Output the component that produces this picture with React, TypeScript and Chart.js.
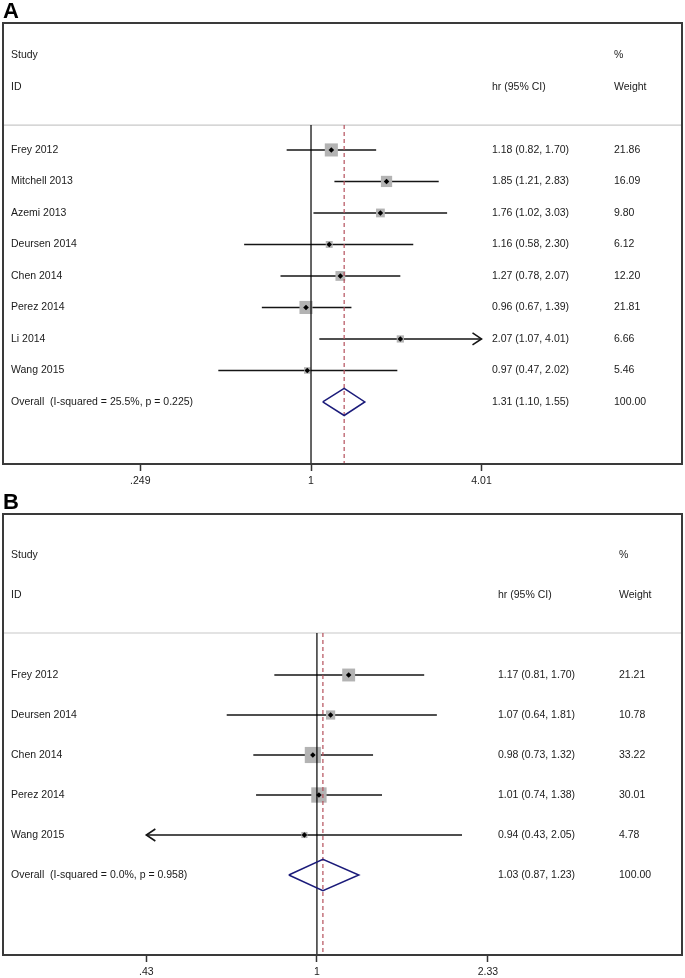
import React, { useEffect, useRef } from 'react';
import { Chart, registerables } from 'chart.js';

Chart.register(...registerables);

// ---------- Panel A data ----------
const studiesA = ['Frey 2012', 'Mitchell 2013', 'Azemi 2013', 'Deursen 2014', 'Chen 2014', 'Perez 2014', 'Li 2014', 'Wang 2015'];
const hrA = [1.18, 1.85, 1.76, 1.16, 1.27, 0.96, 2.07, 0.97];
const lowerA = [0.82, 1.21, 1.02, 0.58, 0.78, 0.67, 1.07, 0.47];
const upperA = [1.70, 2.83, 3.03, 2.30, 2.07, 1.39, 4.01, 2.02];
const weightA = [21.86, 16.09, 9.80, 6.12, 12.20, 21.81, 6.66, 5.46];
const overallA = [1.31, 1.10, 1.55]; // hr, lower, upper
const overallLabelA = 'Overall  (I-squared = 25.5%, p = 0.225)';
const tickValuesA = [0.249, 1, 4.01];
const tickLabelsA = ['.249', '1', '4.01'];

// ---------- Panel B data ----------
const studiesB = ['Frey 2012', 'Deursen 2014', 'Chen 2014', 'Perez 2014', 'Wang 2015'];
const hrB = [1.17, 1.07, 0.98, 1.01, 0.94];
const lowerB = [0.81, 0.64, 0.73, 0.74, 0.43];
const upperB = [1.70, 1.81, 1.32, 1.38, 2.05];
const weightB = [21.21, 10.78, 33.22, 30.01, 4.78];
const overallB = [1.03, 0.87, 1.23];
const overallLabelB = 'Overall  (I-squared = 0.0%, p = 0.958)';
const tickValuesB = [0.43, 1, 2.33];
const tickLabelsB = ['.43', '1', '2.33'];

// ---------- Headers ----------
const headerStudy = ['Study', 'ID'];
const headerCI = 'hr (95% CI)';
const headerWeight = ['%', 'Weight'];

type PanelData = {
  label: string;
  studies: string[];
  hr: number[];
  lower: number[];
  upper: number[];
  weight: number[];
  overall: number[];
  overallLabel: string;
  tickValues: number[];
  tickLabels: string[];
};

type Layout = {
  top: number;
  height: number;
  padTop: number;
  axisH: number;
  xMin: number;
  xMax: number;
  yMin: number;
  yMax: number;
  sepRow: number;
  diamondHalf: number;
  studyX: number;
  ciX: number;
  wtX: number;
};

const panelA: PanelData = {
  label: 'A', studies: studiesA, hr: hrA, lower: lowerA, upper: upperA, weight: weightA,
  overall: overallA, overallLabel: overallLabelA, tickValues: tickValuesA, tickLabels: tickLabelsA,
};
const panelB: PanelData = {
  label: 'B', studies: studiesB, hr: hrB, lower: lowerB, upper: upperB, weight: weightB,
  overall: overallB, overallLabel: overallLabelB, tickValues: tickValuesB, tickLabels: tickLabelsB,
};

const layoutA: Layout = {
  top: 0, height: 490, padTop: 23, axisH: 26,
  xMin: -2.509, xMax: 3.022, yMin: -4.03, yMax: 9.97, sepRow: -0.79,
  diamondHalf: 0.43, studyX: 8, ciX: 489, wtX: 611,
};
const layoutB: Layout = {
  top: 490, height: 488, padTop: 24, axisH: 23,
  xMin: -1.553, xMax: 1.806, yMin: -4.025, yMax: 7, sepRow: -1.05,
  diamondHalf: 0.39, studyX: 8, ciX: 495, wtX: 616,
};

const FONT = '"Liberation Sans", Arial, Helvetica, sans-serif';
const TEXT_SIZE = 10.5;
const SQUARE_K = 2.8;

function fmt(v: number) {
  return v.toFixed(2);
}

function ForestPanel({ data, layout }: { data: PanelData; layout: Layout }) {
  const ref = useRef<HTMLCanvasElement>(null);

  useEffect(() => {
    const canvas = ref.current;
    if (!canvas) return;
    const ln = Math.log;
    const n = data.studies.length;
    const overallRow = n;
    const tMin = data.tickValues[0];
    const tMax = data.tickValues[data.tickValues.length - 1];
    const clipLo = data.lower.map((v) => Math.max(v, tMin));
    const clipHi = data.upper.map((v) => Math.min(v, tMax));
    const [oh, ol, ou] = data.overall;

    const datasets: any[] = [];
    datasets.push({
      label: 'separator',
      data: [{ x: layout.xMin, y: layout.sepRow }, { x: layout.xMax, y: layout.sepRow }],
      showLine: true, borderColor: '#c8c8c8', borderWidth: 1.2, pointRadius: 0, order: 20,
    });
    data.studies.forEach((s, i) => {
      datasets.push({
        label: s,
        data: [{ x: ln(clipLo[i]), y: i }, { x: ln(clipHi[i]), y: i }],
        showLine: true, borderColor: '#151515', borderWidth: 1.6, pointRadius: 0, order: 15,
      });
    });
    datasets.push({
      label: 'weights',
      data: data.hr.map((v, i) => ({ x: ln(v), y: i })),
      pointStyle: 'rect',
      pointRadius: data.weight.map((w) => (SQUARE_K * Math.sqrt(w)) / Math.SQRT2),
      pointBackgroundColor: '#b3b3b3', pointBorderWidth: 0, showLine: false, order: 12,
    });
    datasets.push({
      label: 'null',
      data: [{ x: 0, y: layout.sepRow }, { x: 0, y: layout.yMax }],
      showLine: true, borderColor: '#000000', borderWidth: 1.2, pointRadius: 0, order: 10,
    });
    datasets.push({
      label: 'pooled',
      data: [{ x: ln(oh), y: layout.sepRow }, { x: ln(oh), y: layout.yMax }],
      showLine: true, borderColor: '#b5505c', borderWidth: 1.2, borderDash: [4, 3], pointRadius: 0, order: 9,
    });
    datasets.push({
      label: 'estimates',
      data: data.hr.map((v, i) => ({ x: ln(v), y: i })),
      pointStyle: 'rectRot', pointRadius: 2.8,
      pointBackgroundColor: '#000000', pointBorderWidth: 0, showLine: false, order: 6,
    });
    datasets.push({
      label: 'overall',
      data: [
        { x: ln(ol), y: overallRow },
        { x: ln(oh), y: overallRow - layout.diamondHalf },
        { x: ln(ou), y: overallRow },
        { x: ln(oh), y: overallRow + layout.diamondHalf },
        { x: ln(ol), y: overallRow },
      ],
      showLine: true, borderColor: '#1b1b7a', borderWidth: 1.5, borderJoinStyle: 'miter',
      pointRadius: 0, fill: false, order: 4,
    });

    const overlay = {
      id: 'forestOverlay' + data.label,
      afterDatasetsDraw(chart: any) {
        const { ctx, chartArea, scales } = chart;
        const xs = scales.x;
        const ys = scales.y;
        ctx.save();
        // arrowheads for truncated CIs
        ctx.strokeStyle = '#151515';
        ctx.lineWidth = 1.6;
        data.studies.forEach((_, i) => {
          const py = ys.getPixelForValue(i);
          if (data.upper[i] >= tMax) {
            const px = xs.getPixelForValue(ln(tMax));
            ctx.beginPath();
            ctx.moveTo(px - 9, py - 6);
            ctx.lineTo(px, py);
            ctx.lineTo(px - 9, py + 6);
            ctx.stroke();
          }
          if (data.lower[i] <= tMin) {
            const px = xs.getPixelForValue(ln(tMin));
            ctx.beginPath();
            ctx.moveTo(px + 9, py - 6);
            ctx.lineTo(px, py);
            ctx.lineTo(px + 9, py + 6);
            ctx.stroke();
          }
        });
        // frame
        ctx.strokeStyle = '#3a3a3a';
        ctx.lineWidth = 2;
        ctx.strokeRect(chartArea.left, chartArea.top, chartArea.right - chartArea.left, chartArea.bottom - chartArea.top);
        // panel letter
        ctx.fillStyle = '#000';
        ctx.font = 'bold 22px ' + FONT;
        ctx.textAlign = 'left';
        ctx.textBaseline = 'alphabetic';
        ctx.fillText(data.label, 3, chartArea.top - 5);
        // table text
        ctx.font = TEXT_SIZE + 'px ' + FONT;
        ctx.fillStyle = '#1a1a1a';
        ctx.textBaseline = 'middle';
        const L = chartArea.left;
        ctx.fillText(headerStudy[0], L + layout.studyX, ys.getPixelForValue(-3));
        ctx.fillText(headerStudy[1], L + layout.studyX, ys.getPixelForValue(-2));
        ctx.fillText(headerCI, L + layout.ciX, ys.getPixelForValue(-2));
        ctx.fillText(headerWeight[0], L + layout.wtX, ys.getPixelForValue(-3));
        ctx.fillText(headerWeight[1], L + layout.wtX, ys.getPixelForValue(-2));
        data.studies.forEach((s, i) => {
          const py = ys.getPixelForValue(i);
          ctx.fillText(s, L + layout.studyX, py);
          ctx.fillText(`${fmt(data.hr[i])} (${fmt(data.lower[i])}, ${fmt(data.upper[i])})`, L + layout.ciX, py);
          ctx.fillText(fmt(data.weight[i]), L + layout.wtX, py);
        });
        const po = ys.getPixelForValue(overallRow);
        ctx.fillText(data.overallLabel, L + layout.studyX, po);
        ctx.fillText(`${fmt(oh)} (${fmt(ol)}, ${fmt(ou)})`, L + layout.ciX, po);
        ctx.fillText('100.00', L + layout.wtX, po);
        ctx.restore();
      },
    };

    const chart = new Chart(canvas, {
      type: 'scatter',
      data: { datasets },
      options: {
        responsive: false,
        maintainAspectRatio: false,
        devicePixelRatio: 1,
        animation: false,
        events: [],
        layout: { autoPadding: false, padding: { left: 3, right: 3, top: layout.padTop, bottom: 0 } },
        plugins: { legend: { display: false }, tooltip: { enabled: false }, title: { display: false } },
        scales: {
          x: {
            type: 'linear',
            min: layout.xMin,
            max: layout.xMax,
            afterBuildTicks: (scale: any) => {
              scale.ticks = data.tickValues.map((v) => ({ value: ln(v) }));
            },
            afterFit: (scale: any) => {
              scale.height = layout.axisH;
              scale.paddingLeft = 0;
              scale.paddingRight = 0;
            },
            ticks: {
              callback: (_v: any, idx: number) => data.tickLabels[idx],
              font: { family: FONT, size: TEXT_SIZE },
              color: '#222',
              padding: 4,
              maxRotation: 0,
              autoSkip: false,
            },
            grid: {
              drawOnChartArea: false,
              drawTicks: true,
              tickLength: 7,
              tickColor: '#333',
              tickWidth: 1.5,
              color: '#333',
            },
            border: { display: true, color: '#333', width: 2 },
          },
          y: {
            type: 'linear',
            reverse: true,
            min: layout.yMin,
            max: layout.yMax,
            display: false,
          },
        },
      } as any,
      plugins: [overlay as any],
    });

    return () => chart.destroy();
  }, [data, layout]);

  return (
    <canvas
      ref={ref}
      width={685}
      height={layout.height}
      style={{ position: 'absolute', left: 0, top: layout.top, width: 685, height: layout.height, display: 'block' }}
    />
  );
}

export default function App() {
  return (
    <div style={{ position: 'absolute', left: 0, top: 0, width: 685, height: 978, background: '#ffffff' }}>
      <ForestPanel data={panelA} layout={layoutA} />
      <ForestPanel data={panelB} layout={layoutB} />
    </div>
  );
}
